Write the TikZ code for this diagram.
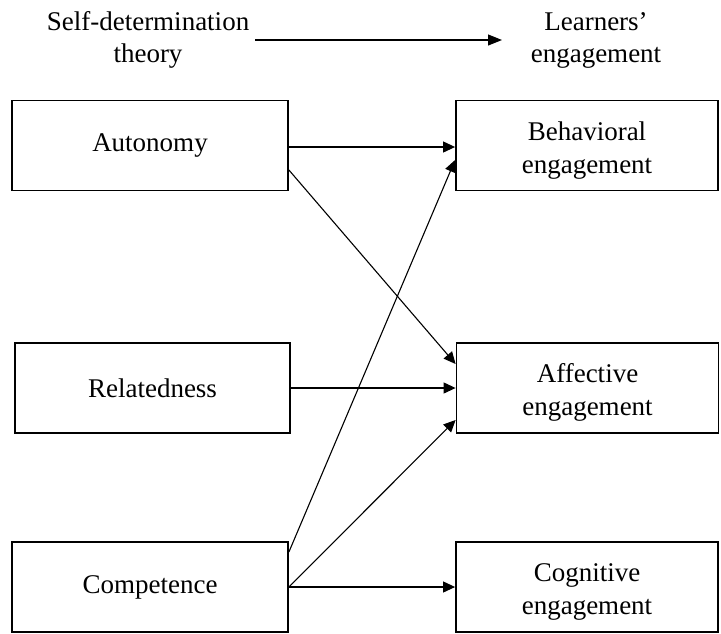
\documentclass[tikz,border=0pt]{standalone}
\usepackage{fontspec}
\setmainfont{Liberation Serif}
\usetikzlibrary{arrows.meta,calc}
\newcommand{\twolines}[2]{\raisebox{-5pt}[\height][\depth]{\begin{tabular}{@{}c@{}}#1\\[1pt]#2\end{tabular}}}
\begin{document}
\begin{tikzpicture}[x=1pt,y=-1pt,
  box/.style={draw=black,line width=1.8pt,minimum height=90pt,inner sep=0pt,font=\fontsize{27}{32}\selectfont},
  lbl/.style={inner sep=0pt,align=center,font=\fontsize{27}{32}\selectfont},
  conn/.style={line width=1.1pt,-{Triangle[length=12pt,width=11pt]}}]
\useasboundingbox (0,0) rectangle (721,633);
% header
\node[lbl] (sdt) at (148,40) {Self-determination\\theory};
\node[lbl] (le) at (596,40) {Learners'\\engagement};
\coordinate (hs) at (255,40);
\coordinate (he) at (502,40);
\draw[line width=1.1pt,-{Triangle[length=14pt,width=11pt]}] (hs) -- (he);
% boxes
\node[box,minimum width=276pt] (aut) at (150,145.5) {Autonomy};
\node[box,minimum width=275pt] (rel) at (152.5,388) {Relatedness};
\node[box,minimum width=276pt] (com) at (150,587) {Competence};
\node[box,minimum width=262pt] (beh) at (587,145.5) {\twolines{Behavioral}{engagement}};
\node[box,minimum width=262pt] (aff) at (587.5,388) {\twolines{Affective}{engagement}};
\node[box,minimum width=262pt] (cog) at (587,587) {\twolines{Cognitive}{engagement}};
% connectors
\draw[conn] ($(aut.east)+(0,1.5)$) -- ($(beh.west)+(0,1.5)$);
\draw[conn] ($(aut.east)+(0,24.5)$) -- ($(aff.west)+(0,-24)$);
\draw[conn] (rel.east) -- (aff.west);
\draw[conn] ($(com.east)+(0,-35)$) -- ($(beh.west)+(0,14.5)$);
\draw[conn] (com.east) -- ($(aff.west)+(0,32)$);
\draw[conn] (com.east) -- (cog.west);
\end{tikzpicture}
\end{document}
